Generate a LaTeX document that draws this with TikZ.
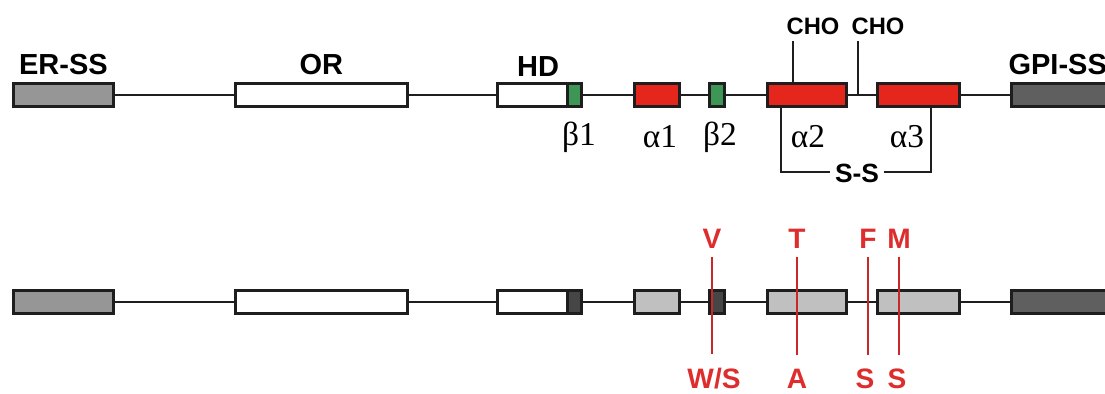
\documentclass[tikz,border=0pt]{standalone}
\usepackage{fontspec}
\setmainfont{Liberation Serif}
\setsansfont{Liberation Sans}
\usetikzlibrary{positioning}
\definecolor{domRed}{RGB}{228,38,28}
\definecolor{domGreen}{RGB}{62,150,86}
\definecolor{sigGray}{RGB}{150,150,150}
\definecolor{gpiGray}{RGB}{95,95,95}
\definecolor{lightGray}{RGB}{192,192,192}
\definecolor{darkGray}{RGB}{70,70,70}
\definecolor{mutRed}{RGB}{222,45,45}
\definecolor{edgeGray}{RGB}{30,30,30}
\tikzset{
  dom/.style={draw=edgeGray, line width=1.6pt, inner sep=0pt,
              minimum height=0.46cm, anchor=west},
  link/.style={draw=edgeGray, line width=1.1pt},
  lbl/.style={font=\sffamily\bfseries\fontsize{16.5}{19}\selectfont, inner sep=0pt},
  choLbl/.style={font=\sffamily\bfseries\fontsize{13.5}{16}\selectfont, inner sep=0pt},
  greek/.style={font=\fontsize{19}{22}\selectfont, inner sep=0pt},
  mut/.style={font=\sffamily\bfseries\fontsize{16}{19}\selectfont,
              text=mutRed, inner sep=0pt},
  mutLine/.style={draw=mutRed!90!black, line width=1.2pt},
}

\begin{document}
\begin{tikzpicture}[x=0.02cm, y=-0.02cm]
    \useasboundingbox (0,0) rectangle (1105,393);

    %% wild-type domains
    \draw[link] (12,95) -- (1010,95);
    \node[dom, fill=sigGray, minimum width=2cm]       (erT)     at (12,95)   {};
    \node[dom, fill=white, minimum width=3.44cm]      (orT)     at (234,95)  {};
    \node[dom, fill=white, minimum width=1.4cm]       (hdT)     at (496,95)  {};
    \node[dom, fill=domGreen, minimum width=0.28cm]   (bOneT)   at (566,95)  {};
    \node[dom, fill=domRed, minimum width=0.9cm]      (aOneT)   at (633,95)  {};
    \node[dom, fill=domGreen, minimum width=0.3cm]    (bTwoT)   at (708,95)  {};
    \node[dom, fill=domRed, minimum width=1.58cm]     (aTwoT)   at (766,95)  {};
    \node[dom, fill=domRed, minimum width=1.64cm]     (aThreeT) at (876,95)  {};
    \node[dom, fill=gpiGray, minimum width=2.4cm]     (gpiT)    at (1010,95) {};

    \node[lbl, above=4pt of erT] {ER-SS};
    \node[lbl, above=4pt of orT] {OR};
    \node[lbl, anchor=south] at (538,77) {HD};
    \node[lbl, anchor=south west] at ([xshift=-1pt, yshift=4pt]gpiT.north west) {GPI-SS};

    \node[greek] (lbOne)   at (579,137) {β1};
    \node[greek] (laOne)   at (660,137) {α1};
    \node[greek] (lbTwo)   at (720,137) {β2};
    \node[greek] (laTwo)   at (808,137) {α2};
    \node[greek] (laThree) at (907,137) {α3};

    %% glycosylation sites
    \node[choLbl] (choA) at (813,26) {CHO};
    \node[choLbl] (choB) at (878,26) {CHO};
    \coordinate (gA) at (793,41);
    \coordinate (gB) at (858,41);
    \draw[link] (gA) -- (gA |- aTwoT.north);
    \draw[link] (gB) -- (gB |- aTwoT.east);

    %% disulfide bridge
    \node[choLbl, font=\sffamily\bfseries\fontsize{15}{18}\selectfont, inner sep=2.5pt] (ss) at (857,173) {S-S};
    \coordinate (ssL) at (781,172);
    \coordinate (ssR) at (931,172);
    \draw[link] (ssL |- aTwoT.south) -- (ssL) -- (ss.west |- ssL);
    \draw[link] (ss.east |- ssR) -- (ssR) -- (ssR |- aThreeT.south);

    %% variant domains
    \draw[link] (12,302) -- (1010,302);
    \node[dom, fill=sigGray, minimum width=2cm]       (erB)     at (12,302)   {};
    \node[dom, fill=white, minimum width=3.44cm]      (orB)     at (234,302)  {};
    \node[dom, fill=white, minimum width=1.4cm]       (hdB)     at (496,302)  {};
    \node[dom, fill=darkGray, minimum width=0.28cm]   (bOneB)   at (566,302)  {};
    \node[dom, fill=lightGray, minimum width=0.9cm]   (aOneB)   at (633,302)  {};
    \node[dom, fill=darkGray, minimum width=0.3cm]    (bTwoB)   at (708,302)  {};
    \node[dom, fill=lightGray, minimum width=1.58cm]  (aTwoB)   at (766,302)  {};
    \node[dom, fill=lightGray, minimum width=1.64cm]  (aThreeB) at (876,302)  {};
    \node[dom, fill=gpiGray, minimum width=2.4cm]     (gpiB)    at (1010,302) {};

    %% substitutions
    \node[mut] (mV)  at (712,239) {V};
    \node[mut] (mT)  at (797,239) {T};
    \node[mut] (mF)  at (868,239) {F};
    \node[mut] (mM)  at (899,239) {M};
    \node[mut] (mWS) at (714,379) {W/S};
    \node[mut] (mA)  at (797,379) {A};
    \node[mut] (mSa) at (865,379) {S};
    \node[mut] (mSb) at (897,379) {S};
    \foreach \top/\bot in {mV/mWS, mT/mA, mF/mSa, mM/mSb}
      \draw[mutLine, shorten <=4.5pt, shorten >=8pt] (\top.south) -- (\top.south |- \bot.north);
  \end{tikzpicture}
\end{document}
